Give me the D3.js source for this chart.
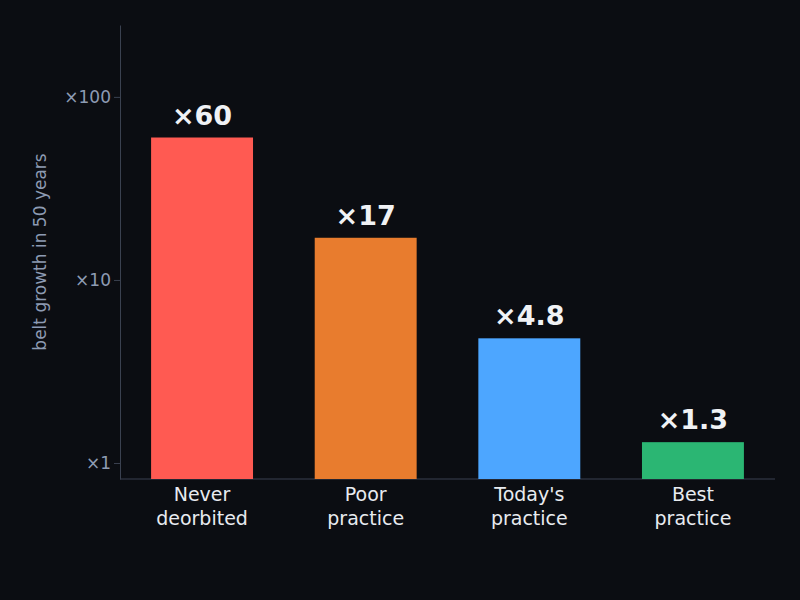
<!DOCTYPE html>
<html><head><meta charset="utf-8">
<script src="https://cdn.jsdelivr.net/npm/d3@7"></script>
<style>body{margin:0;background:#0b0d12}</style></head>
<body><svg width="800" height="600"></svg>
<script>
const categories=[["Never","deorbited"],["Poor","practice"],["Today's","practice"],["Best","practice"]];
const values=[60,17,4.8,1.3];
const valueLabels=["×60","×17","×4.8","×1.3"];
const colors=["#ff5a52","#e87c2e","#4da6ff","#2bb673"];
const tickValues=[1,10,100];
const tickLabels=["×1","×10","×100"];
const svg=d3.select("svg");
svg.append("rect").attr("width",800).attr("height",600).attr("fill","#0b0d12");
const x=d3.scaleBand().domain(d3.range(4)).range([120,775]).paddingInner(0.377).paddingOuter(0.19);
const y=d3.scaleLog().domain([0.818,247]).range([479,25]);
const font="DejaVu Sans";
const ax=svg.append("g").attr("transform","translate(120,0)").call(d3.axisLeft(y).tickValues(tickValues).tickFormat((d,i)=>tickLabels[i]).tickSize(6).tickSizeOuter(0));
ax.selectAll("text").attr("fill","#8d9bb3").attr("font-size",17).attr("font-family",font);
ax.selectAll("line").attr("stroke","#3a4150");
ax.select(".domain").attr("stroke","#3a4150");
svg.append("line").attr("x1",120).attr("x2",775).attr("y1",479).attr("y2",479).attr("stroke","#3a4150");
svg.selectAll(".bar").data(values).join("rect").attr("x",(d,i)=>x(i)).attr("width",x.bandwidth())
 .attr("y",d=>y(d)).attr("height",d=>479-y(d)).attr("fill",(d,i)=>colors[i]);
svg.selectAll(".vl").data(values).join("text").attr("x",(d,i)=>x(i)+x.bandwidth()/2).attr("y",d=>y(d)-13)
 .attr("text-anchor","middle").attr("fill","#f0f2f5").attr("font-weight","bold").attr("font-size",27).attr("font-family",font).text((d,i)=>valueLabels[i]);
categories.forEach((c,i)=>{c.forEach((l,j)=>svg.append("text").attr("x",x(i)+x.bandwidth()/2).attr("y",501+j*24)
 .attr("text-anchor","middle").attr("fill","#e8ebf0").attr("font-size",19).attr("font-family",font).text(l));});
svg.append("text").attr("transform","translate(46,252) rotate(-90)").attr("text-anchor","middle").attr("fill","#8d9bb3")
 .attr("font-size",17).attr("font-family",font).text("belt growth in 50 years");
</script></body></html>
